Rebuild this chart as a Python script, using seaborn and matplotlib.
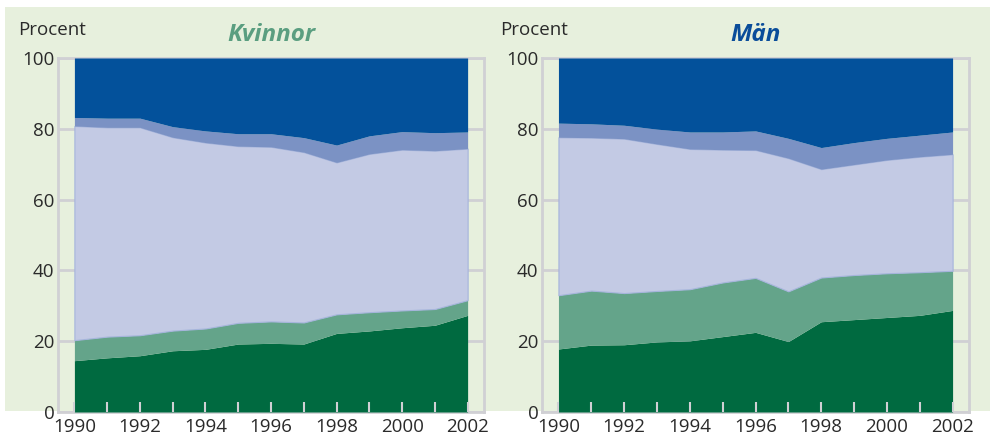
import numpy as np
import matplotlib
matplotlib.use("Agg")
import matplotlib.pyplot as plt
from matplotlib.patches import Rectangle
import seaborn as sns

# data: andel (procent) per skikt, nedifrån och upp
years = list(range(1990, 2003))

kv_dark = [14.5, 15.3, 15.9, 17.3, 17.7, 19.2, 19.4, 19.2, 22.2, 22.9, 23.8, 24.5, 27.3]
kv_mid = [5.8, 6.0, 5.8, 5.7, 5.9, 6.0, 6.2, 6.1, 5.4, 5.3, 4.9, 4.6, 4.3]
kv_lav = [60.5, 59.1, 58.7, 54.6, 52.5, 49.9, 49.3, 48.1, 42.9, 44.7, 45.4, 44.7, 42.8]
kv_blue = [2.4, 2.6, 2.6, 3.0, 3.3, 3.5, 3.7, 4.1, 4.9, 5.1, 5.1, 5.1, 4.7]
kv_top = [16.8, 17.0, 17.0, 19.4, 20.6, 21.4, 21.4, 22.5, 24.6, 22.0, 20.8, 21.1, 20.9]

man_dark = [17.8, 18.9, 19.0, 19.8, 20.1, 21.3, 22.5, 19.9, 25.5, 26.1, 26.7, 27.3, 28.7]
man_mid = [15.2, 15.4, 14.6, 14.4, 14.6, 15.3, 15.4, 14.2, 12.5, 12.6, 12.5, 12.2, 11.2]
man_lav = [44.6, 43.2, 43.6, 41.5, 39.6, 37.5, 36.1, 37.6, 30.6, 31.2, 32.0, 32.6, 32.9]
man_blue = [4.0, 3.9, 3.8, 4.2, 4.8, 5.0, 5.4, 5.6, 6.1, 6.2, 6.1, 6.1, 6.3]
man_top = [18.4, 18.6, 19.0, 20.1, 20.9, 20.9, 20.6, 22.7, 25.3, 23.9, 22.7, 21.8, 20.9]

colors = ["#006a40", "#64a48a", "#c3cae4", "#7b92c4", "#03519b"]
bg = "#e7f0dd"
gray = "#d0d0d4"

sns.set_theme(style="white")
plt.rcParams['font.family'] = ['Open Sans', 'DejaVu Sans']

fig = plt.figure(figsize=(9.9, 4.37), dpi=100)
fig.patches.append(Rectangle((0.005, 0.0595), 0.995, 0.9245, transform=fig.transFigure,
                             facecolor=bg, edgecolor='none', zorder=-5))

ax1 = fig.add_axes([0.0586, 0.0572, 0.4303, 0.8101])
ax2 = fig.add_axes([0.5475, 0.0572, 0.4313, 0.8101])

panels = [
    (ax1, [kv_dark, kv_mid, kv_lav, kv_blue, kv_top], "Kvinnor", "#5a9e80", 0.018),
    (ax2, [man_dark, man_mid, man_lav, man_blue, man_top], "Män", "#0a4d9a", 0.505),
]

for ax, layers, title, tcolor, px in panels:
    ax.set_zorder(1)
    ax.set_facecolor(bg)
    polys = ax.stackplot(years, *layers, colors=colors, linewidth=0)
    polys[2].set_edgecolor("#a5b4dc")
    polys[2].set_linewidth(0.8)
    ax.set_xlim(1989.5, 2002.5)
    ax.set_ylim(0, 100)
    ax.set_yticks([0, 20, 40, 60, 80, 100])
    ax.set_xticks(years[::2])
    ax.set_xticks(years, minor=True)
    ax.grid(axis='y', color=gray, linewidth=2)
    ax.grid(axis='x', visible=False)
    ax.yaxis.set_zorder(0.5)
    ax.xaxis.set_zorder(4)
    for s in ax.spines.values():
        s.set_color(gray)
        s.set_linewidth(2)
        s.set_zorder(0.5)
    ax.tick_params(axis='y', length=0, pad=2.5, labelsize=13.5, labelcolor="#2a2a2a")
    ax.tick_params(axis='x', which='both', direction='in', length=7, width=1.5,
                   color=gray, pad=4, labelsize=13.5, labelcolor="#2a2a2a", bottom=True)
    ax.text(0.5, 1.065, title, transform=ax.transAxes, ha='center', va='center',
            fontsize=17.5, fontweight='bold', fontstyle='italic', color=tcolor)
    fig.text(px, 0.931, "Procent", ha='left', va='center', fontsize=13.5, color="#2a2a2a")

fig.savefig("out.png", dpi=100, facecolor='white')
